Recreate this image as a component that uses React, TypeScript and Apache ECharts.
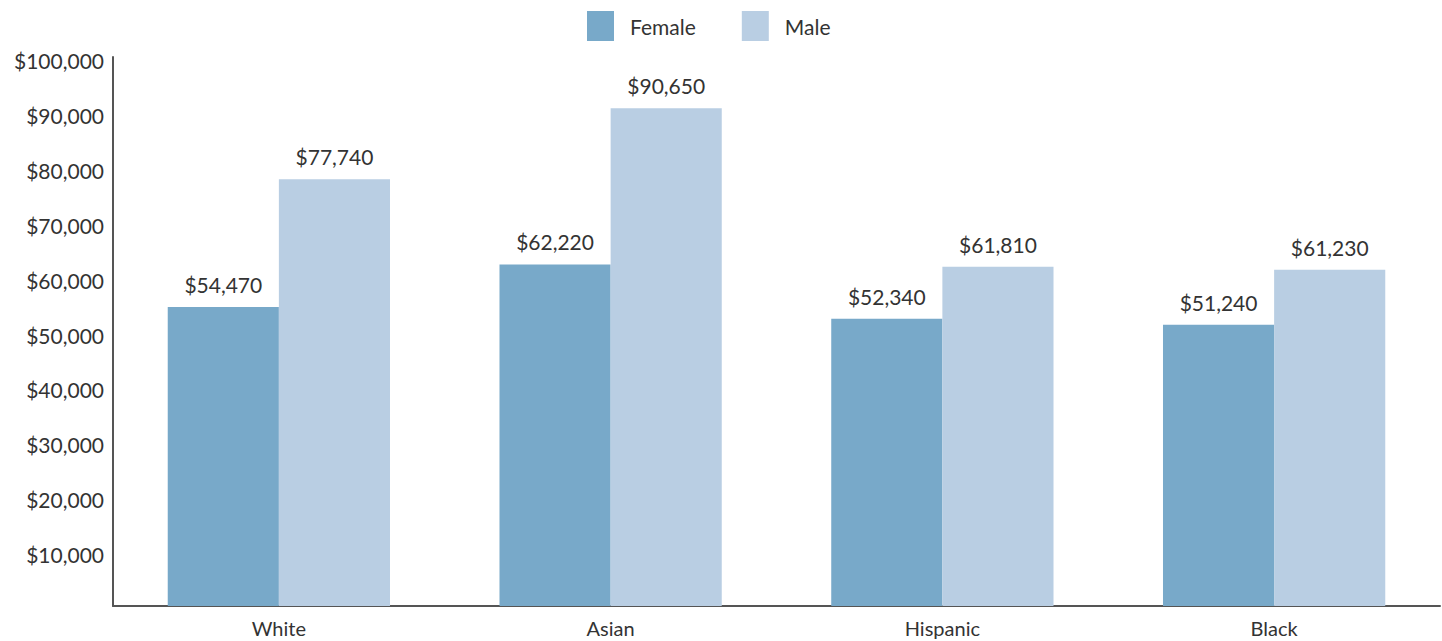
import React, { useEffect, useRef } from "react";
import * as echarts from "echarts";

const categories = ["White", "Asian", "Hispanic", "Black"];
const femaleValues = [54470, 62220, 52340, 51240];
const maleValues = [77740, 90650, 61810, 61230];
const seriesNames = ["Female", "Male"];
const colors = ["#78a9c9", "#b9cee3"];

const FONT = "Lato";
const WEIGHT = 400;
const TEXT = "#333333";
const fmt = (v: number) => "$" + v.toLocaleString("en-US");

export default function App() {
  const ref = useRef<HTMLDivElement>(null);
  useEffect(() => {
    if (!ref.current) return;
    const chart = echarts.init(ref.current, undefined, { renderer: "svg" });
    const labelStyle = {
      show: true,
      position: "top" as const,
      distance: 12,
      formatter: (p: any) => fmt(p.value),
      color: TEXT,
      fontFamily: FONT,
      fontWeight: WEIGHT,
      fontSize: 21,
    };
    chart.setOption({
      animation: false,
      textStyle: { fontFamily: FONT },
      legend: {
        top: 11,
        left: 587,
        padding: 0,
        itemWidth: 27,
        itemHeight: 30,
        itemGap: 46,
        icon: "rect",
        textStyle: {
          fontFamily: FONT,
          fontWeight: WEIGHT,
          fontSize: 21,
          color: TEXT,
          padding: [0, 0, 0, 11],
        },
        data: seriesNames,
      },
      grid: { left: 113, right: 2, top: 57, bottom: 35, containLabel: false },
      xAxis: {
        type: "category",
        data: categories,
        axisLine: { lineStyle: { color: "#555", width: 2 } },
        axisTick: { show: false },
        axisLabel: {
          fontFamily: FONT,
          fontWeight: WEIGHT,
          fontSize: 20,
          color: TEXT,
          margin: 12,
        },
      },
      yAxis: {
        type: "value",
        min: 0,
        max: 100000,
        interval: 10000,
        axisLine: { show: true, lineStyle: { color: "#555", width: 2 } },
        axisTick: { show: false },
        splitLine: { show: false },
        axisLabel: {
          fontFamily: FONT,
          fontWeight: WEIGHT,
          fontSize: 21,
          color: TEXT,
          margin: 9,
          formatter: (v: number) => (v === 0 ? "" : "{a|" + fmt(v) + "}"),
          rich: {
            a: {
              fontFamily: FONT,
              fontWeight: WEIGHT,
              fontSize: 21,
              color: TEXT,
              padding: [7, 0, 0, 0],
            },
          },
        },
      },
      series: [
        {
          name: seriesNames[0],
          type: "bar",
          data: femaleValues,
          itemStyle: { color: colors[0] },
          barGap: "0%",
          barCategoryGap: "33%",
          label: labelStyle,
        },
        {
          name: seriesNames[1],
          type: "bar",
          data: maleValues,
          itemStyle: { color: colors[1] },
          barGap: "0%",
          barCategoryGap: "33%",
          label: labelStyle,
        },
      ],
    });
    return () => chart.dispose();
  }, []);
  return (
    <div
      ref={ref}
      style={{ position: "fixed", left: 0, top: 0, width: 1442, height: 641, background: "#fff" }}
    />
  );
}
